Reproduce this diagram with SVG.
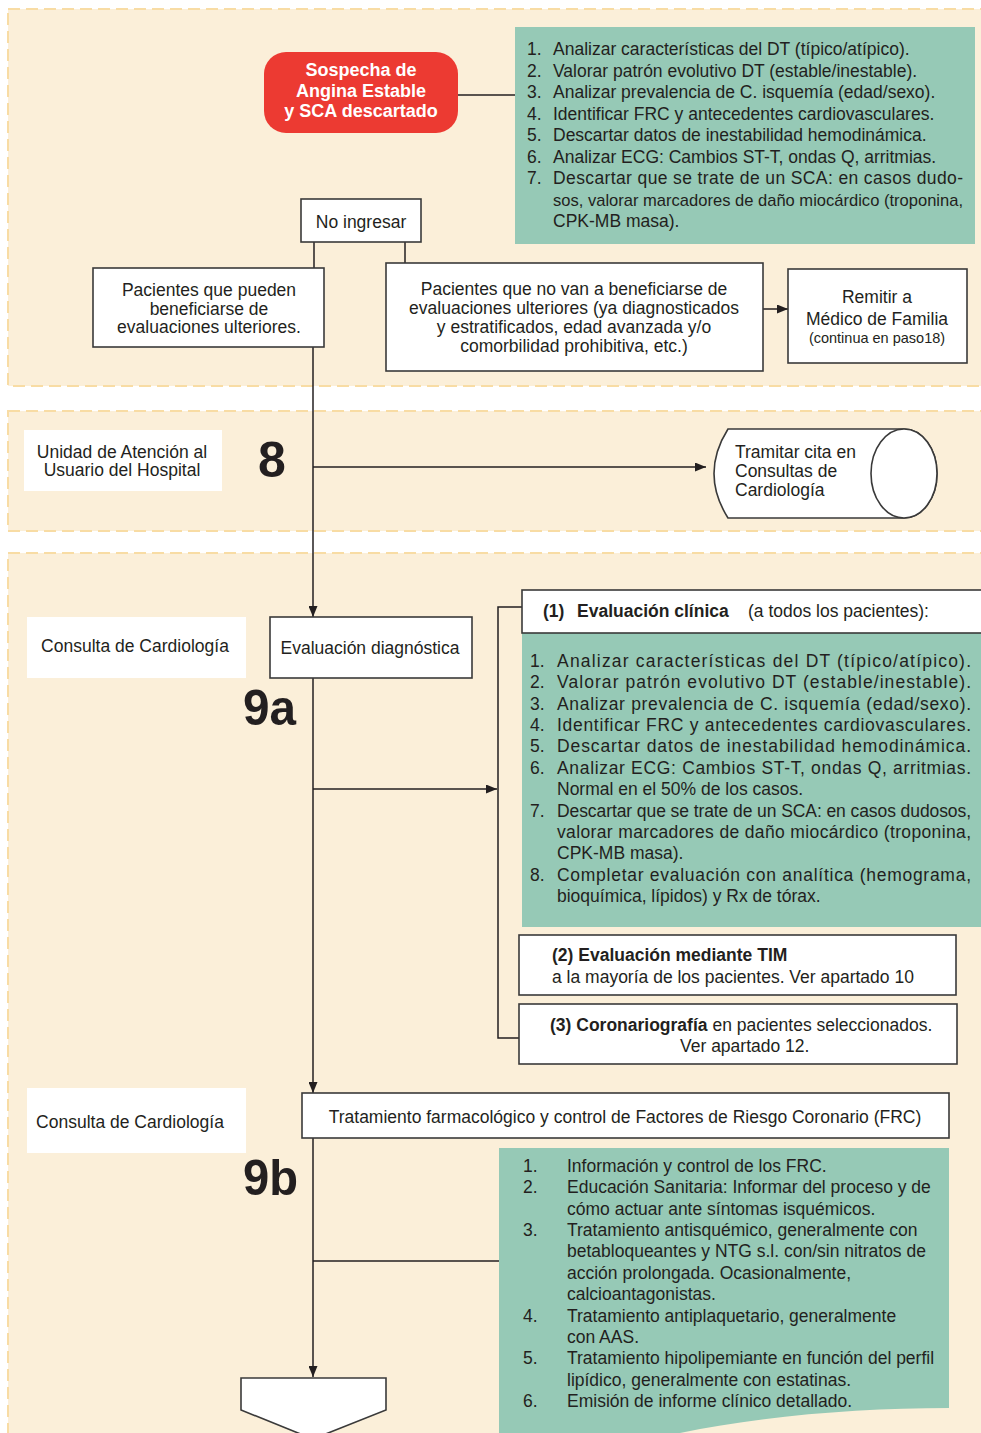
<svg xmlns="http://www.w3.org/2000/svg" width="981" height="1433" viewBox="0 0 981 1433">
<style>
.band{fill:#fbefd9;stroke:#f8dca4;stroke-width:2;stroke-dasharray:12 6}
.box{fill:#fff;stroke:#3a3a3a;stroke-width:1.6}
.lbl{fill:#fff}
.green{fill:#96c9b6}
.t{font-family:"Liberation Sans",Arial,sans-serif;font-size:17.5px;fill:#231f20}
.c{text-anchor:middle}
.b{font-weight:bold}
.big{font-family:"Liberation Sans",Arial,sans-serif;font-size:50px;font-weight:bold;fill:#231f20}
.w{font-family:"Liberation Sans",Arial,sans-serif;font-size:18px;font-weight:bold;fill:#fff;text-anchor:middle}
.ln{fill:none;stroke:#231f20;stroke-width:1.5}
</style>
<defs>
<marker id="arr" markerUnits="userSpaceOnUse" markerWidth="11" markerHeight="9" refX="11" refY="4.5" orient="auto">
<path d="M0,0 L11,4.5 L0,9 z" fill="#231f20"/>
</marker>
</defs>
<rect width="981" height="1433" fill="#fff"/>
<g id="bands">
<rect class="band" x="8" y="9" width="990" height="377"/>
<rect class="band" x="8" y="411" width="990" height="120"/>
<rect class="band" x="8" y="553" width="990" height="900"/>
</g>
<g id="connectors">
<line class="ln" x1="458" y1="95" x2="515" y2="95"/>
<line class="ln" x1="314" y1="242" x2="314" y2="268"/>
<line class="ln" x1="405" y1="242" x2="405" y2="263"/>
<line class="ln" x1="763" y1="309" x2="788" y2="309" marker-end="url(#arr)"/>
<line class="ln" x1="313" y1="347" x2="313" y2="617" marker-end="url(#arr)"/>
<line class="ln" x1="313" y1="467" x2="706" y2="467" marker-end="url(#arr)"/>
<line class="ln" x1="313" y1="678" x2="313" y2="1093" marker-end="url(#arr)"/>
<line class="ln" x1="313" y1="789" x2="497" y2="789" marker-end="url(#arr)"/>
<polyline class="ln" points="522,607 498,607 498,1038 519,1038"/>
<line class="ln" x1="313" y1="1138" x2="313" y2="1377" marker-end="url(#arr)"/>
<line class="ln" x1="313" y1="1261" x2="499" y2="1261"/>
</g>
<g id="sospecha">
<rect x="264" y="52" width="194" height="81" rx="22" fill="#ec3a32"/>
<text class="w" x="361" y="76">Sospecha de</text>
<text class="w" x="361" y="97">Angina Estable</text>
<text class="w" x="361" y="117">y SCA descartado</text>
</g>
<g id="lista1">
<rect class="green" x="515" y="27" width="460" height="217"/>
<text class="t" x="527" y="55">1.</text><text class="t" x="553" y="55">Analizar características del DT (típico/atípico).</text>
<text class="t" x="527" y="76.5">2.</text><text class="t" x="553" y="76.5">Valorar patrón evolutivo DT (estable/inestable).</text>
<text class="t" x="527" y="98">3.</text><text class="t" x="553" y="98">Analizar prevalencia de C. isquemía (edad/sexo).</text>
<text class="t" x="527" y="119.5">4.</text><text class="t" x="553" y="119.5">Identificar FRC y antecedentes cardiovasculares.</text>
<text class="t" x="527" y="141">5.</text><text class="t" x="553" y="141">Descartar datos de inestabilidad hemodinámica.</text>
<text class="t" x="527" y="162.5">6.</text><text class="t" x="553" y="162.5">Analizar ECG: Cambios ST-T, ondas Q, arritmias.</text>
<text class="t" x="527" y="184">7.</text><text class="t" x="553" y="184" textLength="410" lengthAdjust="spacing">Descartar que se trate de un SCA: en casos dudo-</text>
<text class="t" x="553" y="205.5" style="font-size:17px" textLength="410" lengthAdjust="spacingAndGlyphs">sos, valorar marcadores de daño miocárdico (troponina,</text>
<text class="t" x="553" y="227">CPK-MB masa).</text>
</g>
<g id="no-ingresar">
<rect class="box" x="301" y="199" width="120" height="43"/>
<text class="t c" x="361" y="228">No ingresar</text>
</g>
<g id="pueden">
<rect class="box" x="93" y="268" width="231" height="79"/>
<text class="t c" x="209" y="296">Pacientes que pueden</text>
<text class="t c" x="209" y="314.5">beneficiarse de</text>
<text class="t c" x="209" y="333">evaluaciones ulteriores.</text>
</g>
<g id="no-van">
<rect class="box" x="386" y="263" width="377" height="108"/>
<text class="t c" x="574" y="295">Pacientes que no van a beneficiarse de</text>
<text class="t c" x="574" y="314">evaluaciones ulteriores (ya diagnosticados</text>
<text class="t c" x="574" y="333">y estratificados, edad avanzada y/o</text>
<text class="t c" x="574" y="352">comorbilidad prohibitiva, etc.)</text>
</g>
<g id="remitir">
<rect class="box" x="788" y="269" width="179" height="94"/>
<text class="t c" x="877" y="303">Remitir a</text>
<text class="t c" x="877" y="325">Médico de Familia</text>
<text class="t c" x="877" y="343" style="font-size:14.5px">(continua en paso18)</text>
</g>
<g id="unidad">
<rect class="lbl" x="24" y="430" width="198" height="61"/>
<text class="t c" x="122" y="458">Unidad de Atención al</text>
<text class="t c" x="122" y="476">Usuario del Hospital</text>
</g>
<g id="paso8">
<text class="big" x="258" y="477">8</text>
</g>
<g id="tramitar">
<path class="box" d="M728,429 L904,429 A33,44.5 0 0 1 904,518 L728,518 Q700,473.5 728,429 Z"/>
<ellipse class="box" cx="904" cy="473.5" rx="33" ry="44.5"/>
<text class="t" x="735" y="458">Tramitar cita en</text>
<text class="t" x="735" y="477">Consultas de</text>
<text class="t" x="735" y="496">Cardiología</text>
</g>
<g id="consulta-9a">
<rect class="lbl" x="27" y="617" width="219" height="61"/>
<text class="t c" x="135" y="652">Consulta de Cardiología</text>
</g>
<g id="evaluacion">
<rect class="box" x="270" y="617" width="202" height="61"/>
<text class="t c" x="370" y="654">Evaluación diagnóstica</text>
</g>
<g id="paso9a">
<text class="big" x="243" y="725" textLength="53" lengthAdjust="spacingAndGlyphs">9a</text>
</g>
<g id="eval-clinica">
<rect class="green" x="522" y="633" width="470" height="294"/>
<rect class="box" x="522" y="590" width="470" height="43"/>
<text class="t" y="617"><tspan class="b" x="543">(1)</tspan><tspan class="b" x="577">Evaluación clínica</tspan><tspan x="748">(a todos los pacientes):</tspan></text>
<text class="t" x="530" y="667">1.</text><text class="t" x="557" y="667" textLength="414" lengthAdjust="spacing">Analizar características del DT (típico/atípico).</text>
<text class="t" x="530" y="688.4">2.</text><text class="t" x="557" y="688.4" textLength="414" lengthAdjust="spacing">Valorar patrón evolutivo DT (estable/inestable).</text>
<text class="t" x="530" y="709.7">3.</text><text class="t" x="557" y="709.7" textLength="414" lengthAdjust="spacing">Analizar prevalencia de C. isquemía (edad/sexo).</text>
<text class="t" x="530" y="731.1">4.</text><text class="t" x="557" y="731.1" textLength="414" lengthAdjust="spacing">Identificar FRC y antecedentes cardiovasculares.</text>
<text class="t" x="530" y="752.4">5.</text><text class="t" x="557" y="752.4" textLength="414" lengthAdjust="spacing">Descartar datos de inestabilidad hemodinámica.</text>
<text class="t" x="530" y="773.8">6.</text><text class="t" x="557" y="773.8" textLength="414" lengthAdjust="spacing">Analizar ECG: Cambios ST-T, ondas Q, arritmias.</text>
<text class="t" x="557" y="795.2">Normal en el 50% de los casos.</text>
<text class="t" x="530" y="816.5">7.</text><text class="t" x="557" y="816.5" textLength="414" lengthAdjust="spacing">Descartar que se trate de un SCA: en casos dudosos,</text>
<text class="t" x="557" y="837.9" textLength="414" lengthAdjust="spacing">valorar marcadores de daño miocárdico (troponina,</text>
<text class="t" x="557" y="859.2">CPK-MB masa).</text>
<text class="t" x="530" y="880.6">8.</text><text class="t" x="557" y="880.6" textLength="414" lengthAdjust="spacing">Completar evaluación con analítica (hemograma,</text>
<text class="t" x="557" y="902">bioquímica, lípidos) y Rx de tórax.</text>
</g>
<g id="tim">
<rect class="box" x="519" y="935" width="437" height="60"/>
<text class="t b" x="552" y="961">(2) Evaluación mediante TIM</text>
<text class="t" x="552" y="983">a la mayoría de los pacientes. Ver apartado 10</text>
</g>
<g id="coronariografia">
<rect class="box" x="519" y="1004" width="438" height="60"/>
<text class="t" x="550" y="1031"><tspan class="b">(3) Coronariografía</tspan> en pacientes seleccionados.</text>
<text class="t" x="680" y="1052">Ver apartado 12.</text>
</g>
<g id="consulta-9b">
<rect class="lbl" x="27" y="1088" width="219" height="65"/>
<text class="t c" x="130" y="1128">Consulta de Cardiología</text>
</g>
<g id="tratamiento">
<rect class="box" x="302" y="1093" width="647" height="45"/>
<text class="t c" x="625" y="1123">Tratamiento farmacológico y control de Factores de Riesgo Coronario (FRC)</text>
</g>
<g id="paso9b">
<text class="big" x="243" y="1195" textLength="55" lengthAdjust="spacingAndGlyphs">9b</text>
</g>
<g id="lista-tratamiento">
<path class="green" d="M499,1148 L949,1148 L949,1408 C860,1408 760,1416 680,1433 L499,1433 Z"/>
<text class="t" x="523" y="1172">1.</text><text class="t" x="567" y="1172">Información y control de los FRC.</text>
<text class="t" x="523" y="1193.4">2.</text><text class="t" x="567" y="1193.4">Educación Sanitaria: Informar del proceso y de</text>
<text class="t" x="567" y="1214.7">cómo actuar ante síntomas isquémicos.</text>
<text class="t" x="523" y="1236.1">3.</text><text class="t" x="567" y="1236.1">Tratamiento antisquémico, generalmente con</text>
<text class="t" x="567" y="1257.4">betabloqueantes y NTG s.l. con/sin nitratos de</text>
<text class="t" x="567" y="1278.8">acción prolongada. Ocasionalmente,</text>
<text class="t" x="567" y="1300.2">calcioantagonistas.</text>
<text class="t" x="523" y="1321.5">4.</text><text class="t" x="567" y="1321.5">Tratamiento antiplaquetario, generalmente</text>
<text class="t" x="567" y="1342.9">con AAS.</text>
<text class="t" x="523" y="1364.2">5.</text><text class="t" x="567" y="1364.2">Tratamiento hipolipemiante en función del perfil</text>
<text class="t" x="567" y="1385.6">lipídico, generalmente con estatinas.</text>
<text class="t" x="523" y="1407">6.</text><text class="t" x="567" y="1407">Emisión de informe clínico detallado.</text>
</g>
<g id="conector-pagina">
<polygon class="box" points="241,1378 386,1378 386,1410 313,1439 241,1410"/>
</g>
</svg>
